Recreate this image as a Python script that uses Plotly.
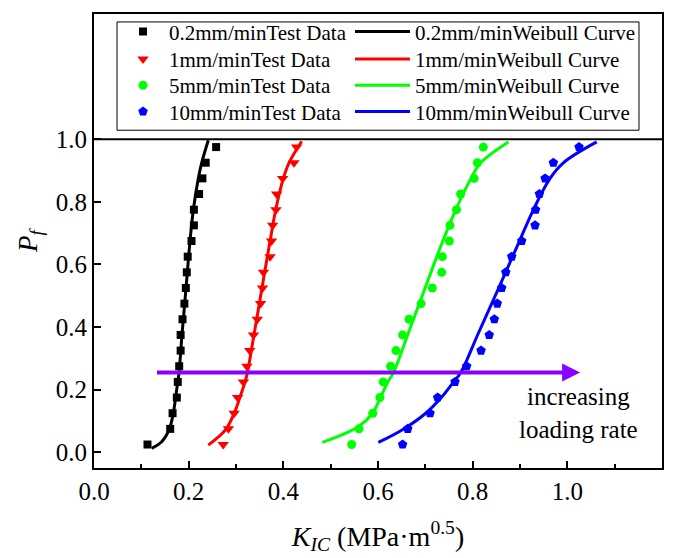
import plotly.graph_objects as go

# ---------------- data ----------------
rates = ["0.2mm/min", "1mm/min", "5mm/min", "10mm/min"]

# failure probability levels of the test data (same for every rate)
pf = [0.025, 0.075, 0.125, 0.175, 0.225, 0.275, 0.325, 0.375, 0.425, 0.475,
      0.525, 0.575, 0.625, 0.675, 0.725, 0.775, 0.825, 0.875, 0.925, 0.975]

# K_IC of the test data
kic_02 = [0.113, 0.161, 0.166, 0.175, 0.177, 0.180, 0.183, 0.183, 0.187, 0.191,
          0.194, 0.196, 0.198, 0.206, 0.211, 0.211, 0.222, 0.229, 0.236, 0.258]
kic_1 = [0.273, 0.284, 0.296, 0.3035, 0.3155, 0.323, 0.329, 0.337, 0.345, 0.352,
         0.356, 0.358, 0.372, 0.375, 0.3775, 0.3845, 0.386, 0.3985, 0.4225, 0.428]
kic_5 = [0.5444, 0.560, 0.589, 0.604, 0.611, 0.6266, 0.638, 0.652, 0.6655, 0.691,
         0.7148, 0.7346, 0.736, 0.7507, 0.752, 0.766, 0.7746, 0.803, 0.810, 0.8225]
kic_10 = [0.652, 0.6628, 0.710, 0.726, 0.7627, 0.7874, 0.8177, 0.835, 0.8458, 0.852,
          0.8614, 0.870, 0.8825, 0.9036, 0.9318, 0.933, 0.941, 0.953, 0.9705, 1.0247]

# Weibull curves
curve_02_k = [0.1219, 0.143, 0.1591, 0.1676, 0.1726, 0.1768, 0.1796, 0.1859, 0.1916,
              0.1972, 0.2028, 0.2099, 0.2204, 0.2275, 0.2415]
curve_02_p = [0.0127, 0.0337, 0.074, 0.1257, 0.1765, 0.2241, 0.254, 0.3756, 0.475,
              0.5756, 0.674, 0.7746, 0.875, 0.9248, 0.9968]
curve_1_k = [0.2415, 0.2592, 0.2789, 0.2965, 0.3085, 0.319, 0.324, 0.338, 0.3493,
             0.3606, 0.3719, 0.3839, 0.400, 0.412, 0.4388]
curve_1_p = [0.0232, 0.0444, 0.074, 0.1257, 0.1765, 0.2241, 0.254, 0.3756, 0.475,
             0.5756, 0.674, 0.7746, 0.875, 0.9248, 0.9937]
curve_5_k = [0.4824, 0.5599, 0.5888, 0.6057, 0.6205, 0.6324, 0.6628, 0.6873, 0.712,
             0.7367, 0.7642, 0.7965, 0.817, 0.8754]
curve_5_p = [0.0317, 0.0835, 0.1257, 0.1765, 0.2241, 0.254, 0.3756, 0.475, 0.5756,
             0.674, 0.7746, 0.875, 0.9248, 0.9914]
curve_10_k = [0.6007, 0.6535, 0.7015, 0.7346, 0.7592, 0.7747, 0.8106, 0.8402, 0.8698,
              0.8986, 0.9282, 0.9635, 0.9916, 1.0621]
curve_10_p = [0.0317, 0.074, 0.1257, 0.1765, 0.2241, 0.254, 0.3756, 0.475, 0.5756,
              0.674, 0.7746, 0.875, 0.9248, 0.9914]

x_ticks = [0.0, 0.2, 0.4, 0.6, 0.8, 1.0, 1.2]
y_ticks = [0.0, 0.2, 0.4, 0.6, 0.8, 1.0]

# arrow annotation (data coordinates)
arrow_start = (0.13, 0.255)
arrow_end = (1.027, 0.255)
arrow_label = "increasing<br>loading rate"
arrow_label_pos = (1.0226, 0.126)

# ---------------- styling ----------------
colors = ["#000000", "#FF0000", "#00FF00", "#0000FF"]
symbols = ["square", "triangle-down", "circle", "pentagon"]
msizes = [8, 10, 9, 10]
FONT = "Liberation Serif"

# legend layout: one legend per entry so rows sit where the reference has them
legend_row_y = [1.0057, 0.9451, 0.8875, 0.8298]   # paper y (top of each row box)
legend_col_x = [0.0405, 0.4507]                   # paper x of the two columns

test_k = [kic_02, kic_1, kic_5, kic_10]
curves = [(curve_02_k, curve_02_p), (curve_1_k, curve_1_p),
          (curve_5_k, curve_5_p), (curve_10_k, curve_10_p)]

fig = go.Figure()
legend_layouts = {}
for i, rate in enumerate(rates):
    lid = "legend" if i == 0 else "legend%d" % (i + 1)
    fig.add_trace(go.Scatter(
        x=test_k[i], y=pf, mode="markers", name=rate + "Test Data",
        marker=dict(symbol=symbols[i], size=msizes[i], color=colors[i],
                    line=dict(width=0)),
        legend=lid))
    legend_layouts[lid] = dict(
        x=legend_col_x[0], y=legend_row_y[i], xanchor="left", yanchor="top",
        bgcolor="rgba(0,0,0,0)", borderwidth=0, itemwidth=42,
        font=dict(family=FONT, size=21, color="black"))
for i, rate in enumerate(rates):
    lid = "legend%d" % (i + 5)
    ck, cp = curves[i]
    fig.add_trace(go.Scatter(
        x=ck, y=cp, mode="lines", name=rate + "Weibull Curve",
        line=dict(color=colors[i], width=3, shape="spline", smoothing=1.0),
        legend=lid))
    legend_layouts[lid] = dict(
        x=legend_col_x[1], y=legend_row_y[i], xanchor="left", yanchor="top",
        bgcolor="rgba(0,0,0,0)", borderwidth=0, itemwidth=55,
        font=dict(family=FONT, size=21, color="black"))

axis_common = dict(showline=True, linewidth=2, linecolor="black", mirror=True,
                   showgrid=False, zeroline=False, ticks="inside", ticklen=7,
                   tickwidth=2, tickcolor="black",
                   tickfont=dict(family=FONT, size=25, color="black"))

fig.update_layout(
    width=676, height=558, autosize=False,
    margin=dict(l=94, r=14, t=11, b=90),
    paper_bgcolor="white", plot_bgcolor="white",
    font=dict(family=FONT, size=24, color="black"),
    xaxis=dict(range=[0, 1.2], tickvals=x_ticks, tickformat=".1f",
               minor=dict(ticks="inside", ticklen=4, tickwidth=2, tickcolor="black",
                          dtick=0.1, tick0=0, showgrid=False),
               title=dict(text="<i>K</i><sub><i>IC</i></sub> (MPa·m<sup>0.5</sup>)",
                          font=dict(family=FONT, size=28), standoff=22),
               **axis_common),
    yaxis=dict(range=[-0.05, 1.40], tickvals=y_ticks, tickformat=".1f",
               title=dict(text="<i>P</i><sub><i>f</i></sub>",
                          font=dict(family=FONT, size=27), standoff=10),
               **axis_common),
    showlegend=True,
    shapes=[
        dict(type="rect", xref="paper", yref="paper", x0=0.0405, x1=0.9595,
             y0=0.744, y1=0.9825, line=dict(color="black", width=1),
             fillcolor="rgba(0,0,0,0)", layer="above"),
        dict(type="line", xref="paper", yref="y", x0=0, x1=1, y0=1.0, y1=1.0,
             line=dict(color="black", width=2), layer="above"),
    ],
    annotations=[
        dict(x=arrow_end[0], y=arrow_end[1], ax=arrow_start[0], ay=arrow_start[1],
             xref="x", yref="y", axref="x", ayref="y", text="", showarrow=True,
             arrowhead=2, arrowsize=0.9, arrowwidth=4, arrowcolor="#8800FF"),
        dict(x=arrow_label_pos[0], y=arrow_label_pos[1], xref="x", yref="y",
             text=arrow_label, showarrow=False, xanchor="center", yanchor="middle",
             font=dict(family=FONT, size=25, color="black")),
    ],
)
fig.update_layout(**legend_layouts)

fig.write_html("out.html")
